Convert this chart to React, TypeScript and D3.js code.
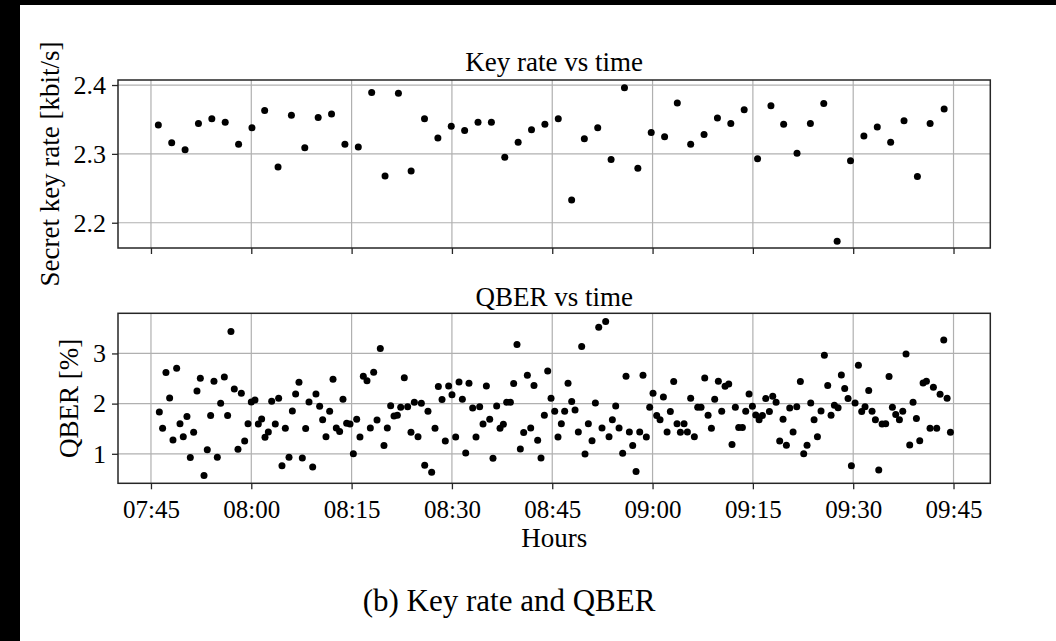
// @ts-nocheck
import * as d3 from "d3";
import React, { useRef, useEffect } from "react";

// minutes after 07:45
const keyRateMinutes = [
  1.1, 3.1, 5.1, 7.1, 9.1, 11.1, 13.1, 15.1, 17.0, 19.0,
  21.0, 23.0, 25.0, 27.0, 29.0, 31.0, 33.0, 35.0, 37.0, 38.9,
  40.9, 42.9, 44.9, 46.9, 48.9, 50.9, 52.9, 54.9, 56.9, 58.9,
  60.9, 62.9, 64.8, 66.8, 68.8, 70.8, 72.8, 74.8, 76.8, 78.7,
  80.7, 82.7, 84.7, 86.7, 88.7, 90.7, 92.7, 94.6, 96.6, 98.6,
  100.6, 102.6, 104.6, 106.6, 108.6, 110.6, 112.6, 114.6, 116.5, 118.6,
];
const keyRateValues = [
  2.342, 2.316, 2.306, 2.344, 2.351, 2.346, 2.314, 2.338, 2.363, 2.281,
  2.356, 2.309, 2.353, 2.358, 2.314, 2.310, 2.389, 2.268, 2.388, 2.275,
  2.351, 2.323, 2.340, 2.334, 2.346, 2.346, 2.295, 2.317, 2.335, 2.343,
  2.351, 2.233, 2.322, 2.338, 2.292, 2.396, 2.279, 2.331, 2.325, 2.374,
  2.314, 2.328, 2.352, 2.344, 2.364, 2.293, 2.370, 2.343, 2.301, 2.344,
  2.373, 2.173, 2.290, 2.326, 2.339, 2.317, 2.348, 2.267, 2.344, 2.365,
];

const qberMinutes = [
  1.25, 1.74, 2.24, 2.79, 3.29, 3.84, 4.34, 4.83, 5.38, 5.88,
  6.38, 6.88, 7.38, 7.93, 8.42, 8.92, 9.42, 9.92, 10.42, 10.97,
  11.46, 11.96, 12.46, 13.01, 13.51, 14.01, 14.51, 15.0, 15.55, 16.05,
  16.55, 17.05, 17.55, 18.05, 18.59, 19.09, 19.59, 20.09, 20.64, 21.14,
  21.63, 22.13, 22.63, 23.13, 23.63, 24.18, 24.67, 25.22, 25.67, 26.17,
  26.72, 27.22, 27.71, 28.21, 28.71, 29.26, 29.76, 30.26, 30.76, 31.25,
  31.75, 32.3, 32.8, 33.3, 33.8, 34.29, 34.84, 35.34, 35.84, 36.34,
  36.84, 37.34, 37.88, 38.38, 38.88, 39.38, 39.93, 40.43, 40.93, 41.42,
  41.97, 42.47, 42.97, 43.52, 44.01, 44.51, 45.01, 45.56, 46.06, 46.56,
  47.06, 47.55, 48.1, 48.6, 49.15, 49.65, 50.15, 50.65, 51.14, 51.69,
  52.19, 52.69, 53.19, 53.74, 54.23, 54.73, 55.23, 55.73, 56.28, 56.78,
  57.27, 57.82, 58.32, 58.82, 59.32, 59.82, 60.37, 60.86, 61.36, 61.86,
  62.36, 62.91, 63.41, 63.9, 64.4, 64.9, 65.4, 65.95, 66.45, 66.95,
  67.44, 67.99, 68.49, 68.99, 69.49, 69.99, 70.53, 71.03, 71.53, 72.03,
  72.53, 73.08, 73.57, 74.07, 74.57, 75.07, 75.62, 76.12, 76.62, 77.17,
  77.66, 78.16, 78.66, 79.16, 79.71, 80.21, 80.7, 81.25, 81.75, 82.25,
  82.8, 83.3, 83.8, 84.29, 84.84, 85.34, 85.84, 86.39, 86.88, 87.38,
  87.88, 88.43, 88.93, 89.43, 89.93, 90.43, 90.93, 91.42, 91.92, 92.47,
  92.97, 93.47, 94.01, 94.51, 95.01, 95.51, 96.01, 96.56, 97.1, 97.6,
  98.1, 98.65, 99.15, 99.65, 100.19, 100.69, 101.19, 101.69, 102.19, 102.74,
  103.23, 103.73, 104.23, 104.73, 105.28, 105.78, 106.27, 106.77, 107.32, 107.82,
  108.32, 108.82, 109.32, 109.86, 110.36, 110.86, 111.36, 111.91, 112.41, 112.9,
  113.45, 113.95, 114.45, 114.95, 115.45, 115.95, 116.49, 116.99, 117.49, 117.99,
  118.54, 119.04, 119.54,
];
const qberValues = [
  1.834, 1.508, 2.618, 2.113, 1.276, 2.704, 1.601, 1.342, 1.741, 0.924,
  1.429, 2.252, 2.505, 0.565, 1.083, 1.761, 2.445, 0.93, 2.007, 2.532,
  1.761, 3.435, 2.292, 1.09, 2.206, 1.256, 1.601, 2.033, 2.073, 1.595,
  1.694, 1.329, 1.435, 2.047, 1.595, 2.106, 0.764, 1.508, 0.93, 1.854,
  2.193, 2.425, 0.917, 1.502, 2.033, 0.738, 2.193, 1.947, 1.681, 1.342,
  1.847, 2.485, 1.515, 1.442, 2.086, 1.608, 1.595, 1.003, 1.688, 1.336,
  2.545, 2.458, 1.515, 2.625, 1.674, 3.096, 1.163, 1.515, 1.96, 1.754,
  1.767, 1.927, 2.518, 1.94, 1.429, 2.027, 1.342, 2.007, 0.771, 1.847,
  0.631, 1.508, 2.339, 2.08, 1.256, 2.352, 2.179, 1.336, 2.432, 2.086,
  1.017, 2.405, 1.914, 1.336, 1.94, 1.595, 2.352, 1.688, 0.91, 1.953,
  1.508, 1.588, 2.027, 2.027, 2.399, 3.176, 1.096, 1.422, 2.565, 1.515,
  2.359, 1.269, 0.917, 1.767, 2.651, 2.106, 1.847, 1.336, 1.601, 1.847,
  2.405, 2.04, 1.874, 1.435, 3.136, 0.997, 1.601, 1.262, 2.013, 3.522,
  1.515, 3.635, 1.342, 1.681, 1.953, 1.515, 1.01, 2.545, 1.435, 1.163,
  0.645, 1.435, 2.565, 1.336, 1.927, 2.206, 1.761, 1.681, 2.133, 1.435,
  1.841, 2.439, 1.601, 1.429, 1.601, 1.435, 2.106, 1.342, 1.927, 1.927,
  2.512, 1.767, 1.508, 2.086, 2.445, 1.847, 2.346, 2.392, 1.183, 1.927,
  1.522, 1.522, 1.847, 2.193, 1.947, 1.774, 1.681, 1.761, 2.1, 1.841,
  2.146, 2.027, 1.256, 1.688, 1.169, 1.914, 1.435, 1.94, 2.439, 1.003,
  1.169, 2.013, 1.681, 1.342, 1.854, 2.963, 2.359, 1.767, 1.967, 1.92,
  2.571, 2.299, 2.1, 0.764, 2.013, 2.764, 1.841, 1.94, 2.259, 1.847,
  1.681, 0.678, 1.595, 1.601, 2.538, 1.927, 1.781, 1.681, 1.847, 2.99,
  1.176, 2.027, 1.701, 1.262, 2.412, 2.445, 1.508, 2.326, 1.508, 2.186,
  3.269, 2.106, 1.429,
];

const hourTicks = ["07:45", "08:00", "08:15", "08:30", "08:45", "09:00", "09:15", "09:30", "09:45"];
const keyRateTicks = [2.2, 2.3, 2.4];
const qberTicks = [1, 2, 3];

const FONT = "'Liberation Serif', 'DejaVu Serif', serif";
const t0 = new Date(2021, 0, 1, 7, 45);
const toTime = (m: number) => new Date(t0.getTime() + m * 60000);
const hm = (s: string) => {
  const [h, m] = s.split(":").map(Number);
  return new Date(2021, 0, 1, h, m);
};

export default function App() {
  const svgRef = useRef<SVGSVGElement | null>(null);

  useEffect(() => {
    const width = 1056;
    const height = 641;
    const svg = d3.select(svgRef.current).attr("width", width).attr("height", height);
    svg.selectAll("*").remove();

    svg.append("rect").attr("width", width).attr("height", height).attr("fill", "#000");
    svg.append("rect").attr("x", 20).attr("y", 5).attr("width", width - 20).attr("height", height - 5).attr("fill", "#fff");

    const left = 118, right = 990.3;
    const x = d3.scaleTime().domain([toTime(-4.93), toTime(125.5)]).range([left, right]);
    const tickDates = hourTicks.map(hm);

    const panels = [
      {
        top: 80, bottom: 248, domain: [2.1633, 2.4073], ticks: keyRateTicks, fmt: d3.format(".1f"),
        xs: keyRateMinutes, ys: keyRateValues, title: "Key rate vs time", titleY: 71,
        label: "Secret key rate [kbit/s]", labelX: 59, showX: false,
      },
      {
        top: 313.3, bottom: 483.3, domain: [0.412, 3.8], ticks: qberTicks, fmt: d3.format("d"),
        xs: qberMinutes, ys: qberValues, title: "QBER vs time", titleY: 305.5,
        label: "QBER [%]", labelX: 78, showX: true,
      },
    ];

    panels.forEach(p => {
      const y = d3.scaleLinear().domain(p.domain).range([p.bottom, p.top]);
      const g = svg.append("g");

      // grid
      g.selectAll(".vg").data(tickDates).join("line")
        .attr("x1", d => x(d)).attr("x2", d => x(d))
        .attr("y1", p.top).attr("y2", p.bottom)
        .attr("stroke", "#b0b0b0").attr("stroke-width", 1.2);
      g.selectAll(".hg").data(p.ticks).join("line")
        .attr("x1", left).attr("x2", right)
        .attr("y1", d => y(d)).attr("y2", d => y(d))
        .attr("stroke", "#b0b0b0").attr("stroke-width", 1.2);

      // points
      g.selectAll("circle").data(p.xs.map((m, i) => ({ t: toTime(m), v: p.ys[i] }))).join("circle")
        .attr("cx", d => x(d.t)).attr("cy", d => y(d.v)).attr("r", 3.5).attr("fill", "#000");

      g.append("rect").attr("x", left).attr("y", p.top)
        .attr("width", right - left).attr("height", p.bottom - p.top)
        .attr("fill", "none").attr("stroke", "#262626").attr("stroke-width", 1.5);

      const ya = g.append("g").attr("transform", `translate(${left},0)`)
        .call(d3.axisLeft(y).tickValues(p.ticks).tickFormat(p.fmt).tickSize(6).tickPadding(6));
      ya.select(".domain").remove();
      ya.selectAll("line").attr("stroke", "#262626").attr("stroke-width", 1.3);
      ya.selectAll("text").attr("font-family", FONT).attr("font-size", 26).attr("fill", "#000");

      const xa = g.append("g").attr("transform", `translate(0,${p.bottom})`)
        .call(d3.axisBottom(x).tickValues(tickDates)
          .tickFormat(p.showX ? d3.timeFormat("%H:%M") : () => "").tickSize(6).tickPadding(11));
      xa.select(".domain").remove();
      xa.selectAll("line").attr("stroke", "#262626").attr("stroke-width", 1.3);
      xa.selectAll("text").attr("font-family", FONT).attr("font-size", 25).attr("fill", "#000");

      svg.append("text").attr("x", (left + right) / 2).attr("y", p.titleY)
        .attr("text-anchor", "middle").attr("font-family", FONT).attr("font-size", 27)
        .text(p.title);

      svg.append("text")
        .attr("transform", `translate(${p.labelX},${(p.top + p.bottom) / 2}) rotate(-90)`)
        .attr("text-anchor", "middle").attr("font-family", FONT).attr("font-size", 27)
        .text(p.label);
    });

    svg.append("text").attr("x", (left + right) / 2).attr("y", 547)
      .attr("text-anchor", "middle").attr("font-family", FONT).attr("font-size", 27)
      .text("Hours");

    svg.append("text").attr("x", 509).attr("y", 611)
      .attr("text-anchor", "middle").attr("font-family", FONT).attr("font-size", 31)
      .text("(b) Key rate and QBER");
  }, []);

  return <svg ref={svgRef} style={{ position: "absolute", left: 0, top: 0, display: "block" }} />;
}
